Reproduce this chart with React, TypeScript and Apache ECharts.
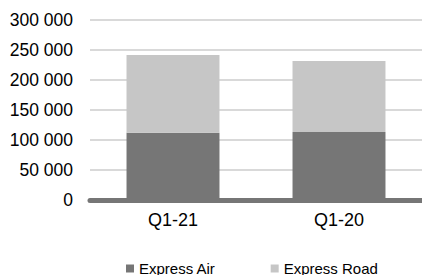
import React, { useEffect, useRef } from "react";
import * as echarts from "echarts";

const categories = ["Q1-21", "Q1-20"];
const expressAir = [112200, 113300];
const expressRoad = [129500, 118400];
const yTicks = { min: 0, max: 300000, interval: 50000 };

const FONT = "'Liberation Sans', Arial, sans-serif";

export default function App() {
  const ref = useRef<HTMLDivElement>(null);
  useEffect(() => {
    if (!ref.current) return;
    const chart = echarts.init(ref.current, undefined, { renderer: "svg" });
    chart.setOption({
      animation: false,
      backgroundColor: "#ffffff",
      grid: { left: 90, right: 0, top: 20, bottom: 75, containLabel: false },
      legend: {
        data: ["Express Air", "Express Road"],
        left: 126,
        top: 261,
        padding: 0,
        itemWidth: 8,
        itemHeight: 8,
        itemGap: 55,
        icon: "rect",
        textStyle: { fontFamily: FONT, fontSize: 15, color: "#000" },
      },
      xAxis: {
        type: "category",
        data: categories,
        axisLine: { show: true, lineStyle: { color: "#767676", width: 5 } },
        axisTick: { show: false },
        axisLabel: { fontFamily: FONT, fontSize: 18, color: "#000", margin: 11 },
      },
      yAxis: {
        type: "value",
        min: yTicks.min,
        max: yTicks.max,
        interval: yTicks.interval,
        axisLine: { show: false },
        axisTick: { show: false },
        splitLine: { lineStyle: { color: "#d9d9d9", width: 2 } },
        axisLabel: {
          fontFamily: FONT,
          fontSize: 17.5,
          color: "#000",
          margin: 17,
          formatter: (v: number) => String(v).replace(/\B(?=(\d{3})+(?!\d))/g, " "),
        },
      },
      series: [
        {
          name: "Express Air",
          type: "bar",
          stack: "total",
          data: expressAir,
          barWidth: "56%",
          itemStyle: { color: "#767676" },
        },
        {
          name: "Express Road",
          type: "bar",
          stack: "total",
          data: expressRoad,
          barWidth: "56%",
          itemStyle: { color: "#c6c6c6" },
        },
      ],
    });
    return () => chart.dispose();
  }, []);
  return <div ref={ref} style={{ width: 422, height: 275, position: "absolute", left: 0, top: 0 }} />;
}
